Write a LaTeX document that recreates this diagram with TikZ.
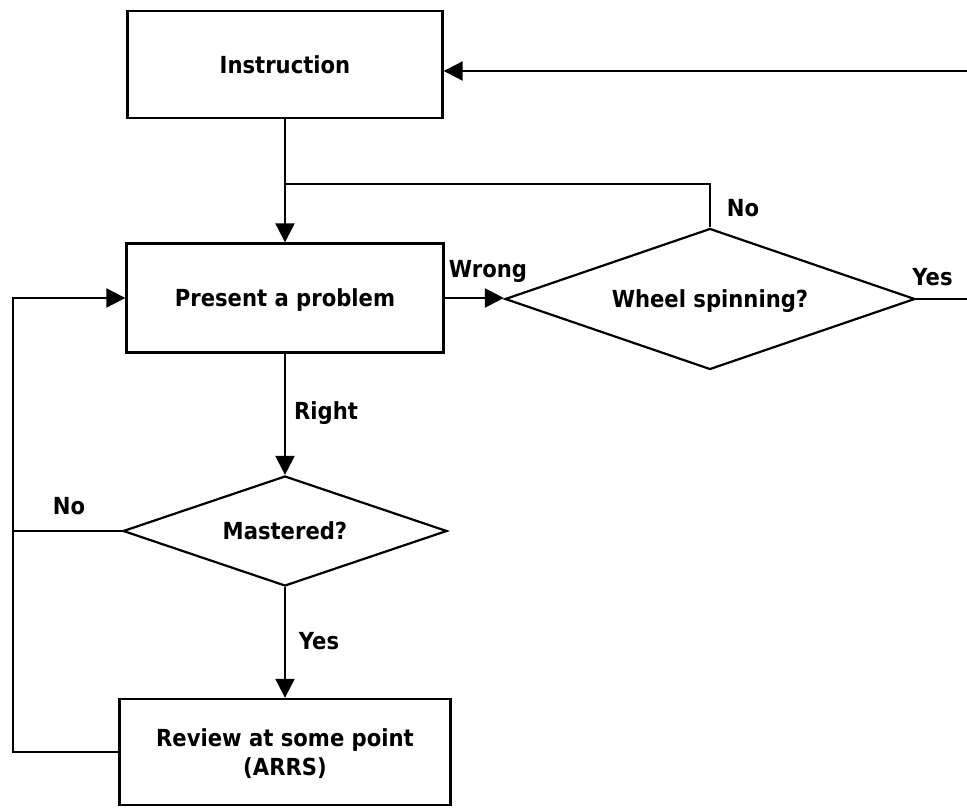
\documentclass[tikz,border=0pt]{standalone}
\usepackage{fontspec}
\setmainfont{DejaVu Sans}[FakeStretch=0.9]
\usetikzlibrary{shapes.geometric,arrows.meta}
\begin{document}
\begin{tikzpicture}[x=1pt,y=-1pt,
  every node/.style={font=\fontsize{23.5}{28.5}\selectfont\bfseries},
  box/.style={draw,line width=2.4pt,inner sep=0pt,text depth=0pt,align=center},
  decision/.style={draw,diamond,line width=2.2pt,inner sep=0pt,text depth=0pt},
  conn/.style={line width=2.2pt},
  arr/.style={conn,-{Triangle[length=19pt,width=19pt]}},
  lbl/.style={anchor=base,inner sep=0pt}]
\useasboundingbox (0,0) rectangle (967,808);

% main nodes
\node[box,minimum width=315pt,minimum height=107pt] (instr) at (285,64.5) {Instruction};
\node[box,minimum width=317pt,minimum height=109pt] (present) at (285,298) {Present a problem};
\node[decision,aspect=2.9,minimum width=410pt,minimum height=141pt] (wheel) at (710,299) {Wheel spinning?};
\node[decision,aspect=2.95,minimum width=324pt,minimum height=110pt] (mast) at (285,531) {Mastered?};
\node[box,minimum width=331pt,minimum height=106pt] (review) at (285,752) {Review at some point\\(ARRS)};

% free ends and junctions
\coordinate (eastin) at (967,71);
\coordinate (eastout) at (967,299);
\coordinate (junc) at (285,184);
\coordinate (leftno) at (13,531);

% connectors
\draw[arr] (eastin) -- (instr.east |- eastin);
\draw[arr] (instr) -- (present);
\draw[conn] (wheel.north) |- (junc);
\draw[arr] (present.east) -- (present.east -| wheel.west);
\draw[conn] (wheel.east) -- (eastout);
\draw[arr] (present) -- (mast);
\draw[arr] (mast) -- (review);
\draw[conn] (mast.west) -- (leftno);
\draw[arr] (review.west) -| (leftno) |- (present.west);

% labels
\node[lbl] (lwrong) at (488,277) {Wrong};
\node[lbl] (lnotop) at (743,216) {No};
\node[lbl] (lyesright) at (932.5,285) {Yes};
\node[lbl] (lright) at (326,419) {Right};
\node[lbl] (lnoleft) at (69,514) {No};
\node[lbl] (lyesbottom) at (319,649) {Yes};
\end{tikzpicture}
\end{document}
